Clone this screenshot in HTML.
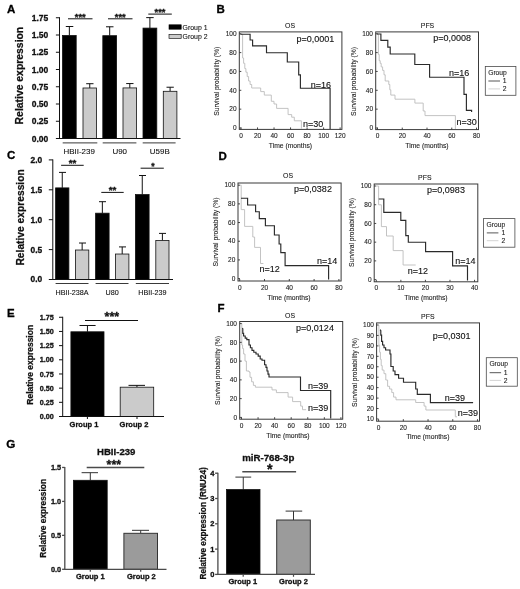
<!DOCTYPE html>
<html><head><meta charset="utf-8"><title>Figure</title>
<style>html,body{margin:0;padding:0;background:#fff;}body{width:520px;height:589px;overflow:hidden;}svg{display:block;font-family:"Liberation Sans",sans-serif;}</style>
</head><body>
<svg width="520" height="589" viewBox="0 0 520 589" style="filter:blur(0.35px)">
<rect x="0" y="0" width="520" height="589" fill="#fff"/>
<text x="6.9" y="12.8" font-size="11.5" font-weight="bold" text-anchor="start" fill="#000" stroke="#000" stroke-width="0.3">A</text>
<text x="216.5" y="13.2" font-size="11.5" font-weight="bold" text-anchor="start" fill="#000" stroke="#000" stroke-width="0.3">B</text>
<text x="6.9" y="159.2" font-size="11.5" font-weight="bold" text-anchor="start" fill="#000" stroke="#000" stroke-width="0.3">C</text>
<text x="218.6" y="159.5" font-size="11.5" font-weight="bold" text-anchor="start" fill="#000" stroke="#000" stroke-width="0.3">D</text>
<text x="7.1" y="316.7" font-size="11.5" font-weight="bold" text-anchor="start" fill="#000" stroke="#000" stroke-width="0.3">E</text>
<text x="217.4" y="311.5" font-size="11.5" font-weight="bold" text-anchor="start" fill="#000" stroke="#000" stroke-width="0.3">F</text>
<text x="6.3" y="447.8" font-size="11.7" font-weight="bold" text-anchor="start" fill="#000" stroke="#000" stroke-width="0.3">G</text>
<line x1="69.35" y1="35.48299999999999" x2="69.35" y2="26.51299999999999" stroke="#111" stroke-width="1"/>
<line x1="65.8" y1="26.51299999999999" x2="73.3" y2="26.51299999999999" stroke="#111" stroke-width="1"/>
<rect x="62.5" y="35.48299999999999" width="13.700000000000003" height="103.01700000000001" fill="#000" stroke="#111" stroke-width="0.8"/>
<line x1="89.75" y1="87.992" x2="89.75" y2="83.714" stroke="#111" stroke-width="1"/>
<line x1="86.2" y1="83.714" x2="93.5" y2="83.714" stroke="#111" stroke-width="1"/>
<rect x="83.0" y="87.992" width="13.5" height="50.507999999999996" fill="#cbcbcb" stroke="#111" stroke-width="0.8"/>
<line x1="109.69999999999999" y1="35.69" x2="109.69999999999999" y2="26.789" stroke="#111" stroke-width="1"/>
<line x1="106" y1="26.789" x2="113.5" y2="26.789" stroke="#111" stroke-width="1"/>
<rect x="102.8" y="35.69" width="13.799999999999997" height="102.81" fill="#000" stroke="#111" stroke-width="0.8"/>
<line x1="129.8" y1="87.923" x2="129.8" y2="83.576" stroke="#111" stroke-width="1"/>
<line x1="126.2" y1="83.576" x2="133.5" y2="83.576" stroke="#111" stroke-width="1"/>
<rect x="123.0" y="87.923" width="13.599999999999994" height="50.577" fill="#cbcbcb" stroke="#111" stroke-width="0.8"/>
<line x1="149.9" y1="28.099999999999994" x2="149.9" y2="17.611999999999995" stroke="#111" stroke-width="1"/>
<line x1="146.2" y1="17.611999999999995" x2="153.7" y2="17.611999999999995" stroke="#111" stroke-width="1"/>
<rect x="143.0" y="28.099999999999994" width="13.800000000000011" height="110.4" fill="#000" stroke="#111" stroke-width="0.8"/>
<line x1="170.10000000000002" y1="91.304" x2="170.10000000000002" y2="87.23299999999999" stroke="#111" stroke-width="1"/>
<line x1="166.5" y1="87.23299999999999" x2="173.8" y2="87.23299999999999" stroke="#111" stroke-width="1"/>
<rect x="163.3" y="91.304" width="13.599999999999994" height="47.196" fill="#cbcbcb" stroke="#111" stroke-width="0.8"/>
<line x1="59.5" y1="17.25" x2="59.5" y2="139.0" stroke="#111" stroke-width="1"/>
<line x1="59.0" y1="138.5" x2="180.5" y2="138.5" stroke="#111" stroke-width="1"/>
<line x1="55.9" y1="138.5" x2="59.5" y2="138.5" stroke="#111" stroke-width="1"/>
<text x="48.3" y="141.52" font-size="8.5" font-weight="bold" text-anchor="end" fill="#111" stroke="#111" stroke-width="0.3">0.00</text>
<line x1="55.9" y1="121.25" x2="59.5" y2="121.25" stroke="#111" stroke-width="1"/>
<text x="48.3" y="124.27" font-size="8.5" font-weight="bold" text-anchor="end" fill="#111" stroke="#111" stroke-width="0.3">0.25</text>
<line x1="55.9" y1="104.0" x2="59.5" y2="104.0" stroke="#111" stroke-width="1"/>
<text x="48.3" y="107.02" font-size="8.5" font-weight="bold" text-anchor="end" fill="#111" stroke="#111" stroke-width="0.3">0.50</text>
<line x1="55.9" y1="86.75" x2="59.5" y2="86.75" stroke="#111" stroke-width="1"/>
<text x="48.3" y="89.77" font-size="8.5" font-weight="bold" text-anchor="end" fill="#111" stroke="#111" stroke-width="0.3">0.75</text>
<line x1="55.9" y1="69.5" x2="59.5" y2="69.5" stroke="#111" stroke-width="1"/>
<text x="48.3" y="72.52" font-size="8.5" font-weight="bold" text-anchor="end" fill="#111" stroke="#111" stroke-width="0.3">1.00</text>
<line x1="55.9" y1="52.25" x2="59.5" y2="52.25" stroke="#111" stroke-width="1"/>
<text x="48.3" y="55.27" font-size="8.5" font-weight="bold" text-anchor="end" fill="#111" stroke="#111" stroke-width="0.3">1.25</text>
<line x1="55.9" y1="35.0" x2="59.5" y2="35.0" stroke="#111" stroke-width="1"/>
<text x="48.3" y="38.02" font-size="8.5" font-weight="bold" text-anchor="end" fill="#111" stroke="#111" stroke-width="0.3">1.50</text>
<line x1="55.9" y1="17.75" x2="59.5" y2="17.75" stroke="#111" stroke-width="1"/>
<text x="48.3" y="20.77" font-size="8.5" font-weight="bold" text-anchor="end" fill="#111" stroke="#111" stroke-width="0.3">1.75</text>
<text x="23.5" y="75.6" font-size="10.4" font-weight="bold" text-anchor="middle" fill="#111" transform="rotate(-90 23.5 75.6)" stroke="#111" stroke-width="0.25">Relative expression</text>
<line x1="68.0" y1="18.8" x2="92.5" y2="18.8" stroke="#111" stroke-width="1"/>
<text x="80.25" y="19.74" font-size="9.3" font-weight="bold" text-anchor="middle" fill="#111" stroke="#111" stroke-width="0.3">***</text>
<line x1="108.0" y1="18.8" x2="132.5" y2="18.8" stroke="#111" stroke-width="1"/>
<text x="120.25" y="19.74" font-size="9.3" font-weight="bold" text-anchor="middle" fill="#111" stroke="#111" stroke-width="0.3">***</text>
<line x1="148.3" y1="14.1" x2="171.8" y2="14.1" stroke="#111" stroke-width="1"/>
<text x="160.05" y="15.24" font-size="9.3" font-weight="bold" text-anchor="middle" fill="#111" stroke="#111" stroke-width="0.3">***</text>
<line x1="62.7" y1="142.9" x2="97.3" y2="142.9" stroke="#222" stroke-width="0.9"/>
<text x="79.2" y="153.9" font-size="7.95" text-anchor="middle" fill="#111" stroke="#111" stroke-width="0.1">HBII-239</text>
<line x1="102.7" y1="142.9" x2="136.4" y2="142.9" stroke="#222" stroke-width="0.9"/>
<text x="119.7" y="153.9" font-size="7.95" text-anchor="middle" fill="#111" stroke="#111" stroke-width="0.1">U90</text>
<line x1="142.7" y1="142.9" x2="175.6" y2="142.9" stroke="#222" stroke-width="0.9"/>
<text x="159.8" y="153.9" font-size="7.95" text-anchor="middle" fill="#111" stroke="#111" stroke-width="0.1">U59B</text>
<rect x="169.0" y="24.8" width="12.2" height="4.4" fill="#000" stroke="#000" stroke-width="0.6"/>
<rect x="169.0" y="34.4" width="12.2" height="4.2" fill="#cbcbcb" stroke="#222" stroke-width="0.7"/>
<text x="182.6" y="29.7" font-size="6.9" text-anchor="start" fill="#111" stroke="#111" stroke-width="0.1">Group 1</text>
<text x="182.6" y="39.3" font-size="6.9" text-anchor="start" fill="#111" stroke="#111" stroke-width="0.1">Group 2</text>
<line x1="62.25" y1="187.8864" x2="62.25" y2="172.3982" stroke="#111" stroke-width="1"/>
<line x1="59.0" y1="172.3982" x2="66.0" y2="172.3982" stroke="#111" stroke-width="1"/>
<rect x="55.6" y="187.8864" width="13.300000000000004" height="91.61359999999999" fill="#000" stroke="#111" stroke-width="0.8"/>
<line x1="82.15" y1="250.0186" x2="82.15" y2="243.022" stroke="#111" stroke-width="1"/>
<line x1="79.0" y1="243.022" x2="86.0" y2="243.022" stroke="#111" stroke-width="1"/>
<rect x="75.5" y="250.0186" width="13.299999999999997" height="29.481400000000008" fill="#cbcbcb" stroke="#111" stroke-width="0.8"/>
<line x1="102.35" y1="213.1818" x2="102.35" y2="201.7002" stroke="#111" stroke-width="1"/>
<line x1="99.0" y1="201.7002" x2="106.0" y2="201.7002" stroke="#111" stroke-width="1"/>
<rect x="95.6" y="213.1818" width="13.5" height="66.31819999999999" fill="#000" stroke="#111" stroke-width="0.8"/>
<line x1="122.2" y1="254.0252" x2="122.2" y2="246.909" stroke="#111" stroke-width="1"/>
<line x1="119.0" y1="246.909" x2="126.0" y2="246.909" stroke="#111" stroke-width="1"/>
<rect x="115.5" y="254.0252" width="13.400000000000006" height="25.474799999999988" fill="#cbcbcb" stroke="#111" stroke-width="0.8"/>
<line x1="142.25" y1="194.584" x2="142.25" y2="175.50780000000003" stroke="#111" stroke-width="1"/>
<line x1="139.0" y1="175.50780000000003" x2="146.0" y2="175.50780000000003" stroke="#111" stroke-width="1"/>
<rect x="135.4" y="194.584" width="13.699999999999989" height="84.916" fill="#000" stroke="#111" stroke-width="0.8"/>
<line x1="162.4" y1="240.5104" x2="162.4" y2="233.3942" stroke="#111" stroke-width="1"/>
<line x1="159.0" y1="233.3942" x2="166.0" y2="233.3942" stroke="#111" stroke-width="1"/>
<rect x="155.8" y="240.5104" width="13.199999999999989" height="38.989599999999996" fill="#cbcbcb" stroke="#111" stroke-width="0.8"/>
<line x1="52.8" y1="159.4" x2="52.8" y2="280.0" stroke="#111" stroke-width="1"/>
<line x1="52.3" y1="279.5" x2="173.0" y2="279.5" stroke="#111" stroke-width="1"/>
<line x1="48.8" y1="279.5" x2="52.8" y2="279.5" stroke="#111" stroke-width="1"/>
<text x="42.199999999999996" y="282.48" font-size="8.4" font-weight="bold" text-anchor="end" fill="#111" stroke="#111" stroke-width="0.3">0.0</text>
<line x1="48.8" y1="249.6" x2="52.8" y2="249.6" stroke="#111" stroke-width="1"/>
<text x="42.199999999999996" y="252.58" font-size="8.4" font-weight="bold" text-anchor="end" fill="#111" stroke="#111" stroke-width="0.3">0.5</text>
<line x1="48.8" y1="219.7" x2="52.8" y2="219.7" stroke="#111" stroke-width="1"/>
<text x="42.199999999999996" y="222.68" font-size="8.4" font-weight="bold" text-anchor="end" fill="#111" stroke="#111" stroke-width="0.3">1.0</text>
<line x1="48.8" y1="189.8" x2="52.8" y2="189.8" stroke="#111" stroke-width="1"/>
<text x="42.199999999999996" y="192.78" font-size="8.4" font-weight="bold" text-anchor="end" fill="#111" stroke="#111" stroke-width="0.3">1.5</text>
<line x1="48.8" y1="159.9" x2="52.8" y2="159.9" stroke="#111" stroke-width="1"/>
<text x="42.199999999999996" y="162.88" font-size="8.4" font-weight="bold" text-anchor="end" fill="#111" stroke="#111" stroke-width="0.3">2.0</text>
<text x="24.0" y="217.4" font-size="10.25" font-weight="bold" text-anchor="middle" fill="#111" transform="rotate(-90 24.0 217.4)" stroke="#111" stroke-width="0.25">Relative expression</text>
<line x1="61.1" y1="165.3" x2="83.7" y2="165.3" stroke="#111" stroke-width="1"/>
<text x="72.5" y="165.7" font-size="9.8" font-weight="bold" text-anchor="middle" fill="#111" stroke="#111" stroke-width="0.3">**</text>
<line x1="101.3" y1="192.4" x2="123.7" y2="192.4" stroke="#111" stroke-width="1"/>
<text x="112.5" y="192.8" font-size="9.8" font-weight="bold" text-anchor="middle" fill="#111" stroke="#111" stroke-width="0.3">**</text>
<line x1="140.6" y1="168.2" x2="163.8" y2="168.2" stroke="#111" stroke-width="1"/>
<text x="153.0" y="168.9" font-size="8.6" font-weight="bold" text-anchor="middle" fill="#111" stroke="#111" stroke-width="0.3">*</text>
<line x1="55.6" y1="283.5" x2="88.5" y2="283.5" stroke="#222" stroke-width="0.9"/>
<text x="72.05" y="294.8" font-size="7.2" text-anchor="middle" fill="#111" stroke="#111" stroke-width="0.1">HBII-238A</text>
<line x1="95.6" y1="283.5" x2="128.5" y2="283.5" stroke="#222" stroke-width="0.9"/>
<text x="112.05" y="294.8" font-size="7.2" text-anchor="middle" fill="#111" stroke="#111" stroke-width="0.1">U80</text>
<line x1="135.8" y1="283.5" x2="169.0" y2="283.5" stroke="#222" stroke-width="0.9"/>
<text x="152.4" y="294.8" font-size="7.2" text-anchor="middle" fill="#111" stroke="#111" stroke-width="0.1">HBII-239</text>
<line x1="87.45" y1="331.7902" x2="87.45" y2="325.49649999999997" stroke="#111" stroke-width="1"/>
<line x1="79.5" y1="325.49649999999997" x2="95.6" y2="325.49649999999997" stroke="#111" stroke-width="1"/>
<rect x="70.9" y="331.7902" width="33.099999999999994" height="84.70979999999997" fill="#000" stroke="#111" stroke-width="0.8"/>
<line x1="136.95" y1="387.1861" x2="136.95" y2="385.3717" stroke="#111" stroke-width="1"/>
<line x1="128.5" y1="385.3717" x2="145.0" y2="385.3717" stroke="#111" stroke-width="1"/>
<rect x="120.2" y="387.1861" width="33.499999999999986" height="29.31389999999999" fill="#cbcbcb" stroke="#111" stroke-width="0.8"/>
<line x1="62.7" y1="316.775" x2="62.7" y2="417.0" stroke="#111" stroke-width="1"/>
<line x1="62.2" y1="416.5" x2="164.0" y2="416.5" stroke="#111" stroke-width="1"/>
<line x1="59.0" y1="416.5" x2="62.7" y2="416.5" stroke="#111" stroke-width="1"/>
<text x="53.8" y="419.06" font-size="7.2" font-weight="bold" text-anchor="end" fill="#111" stroke="#111" stroke-width="0.3">0.00</text>
<line x1="59.0" y1="402.325" x2="62.7" y2="402.325" stroke="#111" stroke-width="1"/>
<text x="53.8" y="404.88" font-size="7.2" font-weight="bold" text-anchor="end" fill="#111" stroke="#111" stroke-width="0.3">0.25</text>
<line x1="59.0" y1="388.15" x2="62.7" y2="388.15" stroke="#111" stroke-width="1"/>
<text x="53.8" y="390.71" font-size="7.2" font-weight="bold" text-anchor="end" fill="#111" stroke="#111" stroke-width="0.3">0.50</text>
<line x1="59.0" y1="373.975" x2="62.7" y2="373.975" stroke="#111" stroke-width="1"/>
<text x="53.8" y="376.53" font-size="7.2" font-weight="bold" text-anchor="end" fill="#111" stroke="#111" stroke-width="0.3">0.75</text>
<line x1="59.0" y1="359.8" x2="62.7" y2="359.8" stroke="#111" stroke-width="1"/>
<text x="53.8" y="362.36" font-size="7.2" font-weight="bold" text-anchor="end" fill="#111" stroke="#111" stroke-width="0.3">1.00</text>
<line x1="59.0" y1="345.625" x2="62.7" y2="345.625" stroke="#111" stroke-width="1"/>
<text x="53.8" y="348.18" font-size="7.2" font-weight="bold" text-anchor="end" fill="#111" stroke="#111" stroke-width="0.3">1.25</text>
<line x1="59.0" y1="331.45" x2="62.7" y2="331.45" stroke="#111" stroke-width="1"/>
<text x="53.8" y="334.01" font-size="7.2" font-weight="bold" text-anchor="end" fill="#111" stroke="#111" stroke-width="0.3">1.50</text>
<line x1="59.0" y1="317.275" x2="62.7" y2="317.275" stroke="#111" stroke-width="1"/>
<text x="53.8" y="319.83" font-size="7.2" font-weight="bold" text-anchor="end" fill="#111" stroke="#111" stroke-width="0.3">1.75</text>
<text x="32.8" y="364.8" font-size="8.5" font-weight="bold" text-anchor="middle" fill="#111" transform="rotate(-90 32.8 364.8)" stroke="#111" stroke-width="0.25">Relative expression</text>
<line x1="87.4" y1="416.5" x2="87.4" y2="419" stroke="#111" stroke-width="1"/>
<line x1="137" y1="416.5" x2="137" y2="419" stroke="#111" stroke-width="1"/>
<line x1="85.0" y1="320.5" x2="138.0" y2="320.5" stroke="#111" stroke-width="1"/>
<text x="111.9" y="321.45" font-size="12.5" font-weight="bold" text-anchor="middle" fill="#111" stroke="#111" stroke-width="0.3">***</text>
<text x="84.0" y="426.6" font-size="7.5" font-weight="bold" text-anchor="middle" fill="#111" stroke="#111" stroke-width="0.3">Group 1</text>
<text x="134.0" y="426.6" font-size="7.5" font-weight="bold" text-anchor="middle" fill="#111" stroke="#111" stroke-width="0.3">Group 2</text>
<line x1="90.30000000000001" y1="480.28309999999993" x2="90.30000000000001" y2="472.6782999999999" stroke="#333" stroke-width="1"/>
<line x1="81.6" y1="472.6782999999999" x2="98.0" y2="472.6782999999999" stroke="#333" stroke-width="1"/>
<rect x="73.4" y="480.28309999999993" width="33.8" height="89.01690000000002" fill="#000" stroke="#111" stroke-width="0.8"/>
<line x1="140.7" y1="533.313" x2="140.7" y2="530.3254" stroke="#333" stroke-width="1"/>
<line x1="132.0" y1="530.3254" x2="149.0" y2="530.3254" stroke="#333" stroke-width="1"/>
<rect x="123.9" y="533.313" width="33.599999999999994" height="35.986999999999966" fill="#9b9b9b" stroke="#333" stroke-width="1.0"/>
<line x1="64.8" y1="466.94999999999993" x2="64.8" y2="569.8" stroke="#4a4a4a" stroke-width="1.3"/>
<line x1="64.3" y1="569.3" x2="166.5" y2="569.3" stroke="#4a4a4a" stroke-width="1.3"/>
<line x1="62.099999999999994" y1="569.3" x2="64.8" y2="569.3" stroke="#4a4a4a" stroke-width="1.3"/>
<text x="61.199999999999996" y="571.89" font-size="7.3" font-weight="bold" text-anchor="end" fill="#111" stroke="#111" stroke-width="0.3">0.0</text>
<line x1="62.099999999999994" y1="535.3499999999999" x2="64.8" y2="535.3499999999999" stroke="#4a4a4a" stroke-width="1.3"/>
<text x="61.199999999999996" y="537.94" font-size="7.3" font-weight="bold" text-anchor="end" fill="#111" stroke="#111" stroke-width="0.3">0.5</text>
<line x1="62.099999999999994" y1="501.4" x2="64.8" y2="501.4" stroke="#4a4a4a" stroke-width="1.3"/>
<text x="61.199999999999996" y="503.99" font-size="7.3" font-weight="bold" text-anchor="end" fill="#111" stroke="#111" stroke-width="0.3">1.0</text>
<line x1="62.099999999999994" y1="467.44999999999993" x2="64.8" y2="467.44999999999993" stroke="#4a4a4a" stroke-width="1.3"/>
<text x="61.199999999999996" y="470.04" font-size="7.3" font-weight="bold" text-anchor="end" fill="#111" stroke="#111" stroke-width="0.3">1.5</text>
<text x="46.3" y="518.3" font-size="8.4" font-weight="bold" text-anchor="middle" fill="#111" transform="rotate(-90 46.3 518.3)" stroke="#111" stroke-width="0.25">Relative expression</text>
<line x1="90.3" y1="569" x2="90.3" y2="571.8" stroke="#4a4a4a" stroke-width="1.2"/>
<line x1="140.7" y1="569" x2="140.7" y2="571.8" stroke="#4a4a4a" stroke-width="1.2"/>
<line x1="86.7" y1="467.6" x2="144.3" y2="467.6" stroke="#4a4a4a" stroke-width="1.5"/>
<text x="113.8" y="468.52" font-size="12.4" font-weight="bold" text-anchor="middle" fill="#111" stroke="#111" stroke-width="0.3">***</text>
<text x="116.2" y="455.0" font-size="9.6" font-weight="bold" text-anchor="middle" fill="#111" stroke="#111" stroke-width="0.3">HBII-239</text>
<text x="90.3" y="578.7" font-size="7.5" font-weight="bold" text-anchor="middle" fill="#111" stroke="#111" stroke-width="0.3">Group 1</text>
<text x="141.4" y="578.7" font-size="7.5" font-weight="bold" text-anchor="middle" fill="#111" stroke="#111" stroke-width="0.3">Group 2</text>
<line x1="243.25" y1="489.59439999999995" x2="243.25" y2="477.09619999999995" stroke="#333" stroke-width="1"/>
<line x1="235.4" y1="477.09619999999995" x2="251.2" y2="477.09619999999995" stroke="#333" stroke-width="1"/>
<rect x="226.5" y="489.59439999999995" width="33.5" height="84.80560000000003" fill="#000" stroke="#111" stroke-width="0.8"/>
<line x1="293.5" y1="520.005" x2="293.5" y2="511.0994" stroke="#333" stroke-width="1"/>
<line x1="285.6" y1="511.0994" x2="302.2" y2="511.0994" stroke="#333" stroke-width="1"/>
<rect x="276.7" y="520.005" width="33.60000000000002" height="54.39499999999998" fill="#9b9b9b" stroke="#333" stroke-width="1.0"/>
<line x1="217.9" y1="472.7" x2="217.9" y2="574.9" stroke="#4a4a4a" stroke-width="1.3"/>
<line x1="217.4" y1="574.4" x2="315.0" y2="574.4" stroke="#4a4a4a" stroke-width="1.3"/>
<line x1="215.1" y1="574.4" x2="217.9" y2="574.4" stroke="#4a4a4a" stroke-width="1.3"/>
<text x="214.5" y="577.06" font-size="7.5" font-weight="bold" text-anchor="end" fill="#111" stroke="#111" stroke-width="0.3">0</text>
<line x1="215.1" y1="549.1" x2="217.9" y2="549.1" stroke="#4a4a4a" stroke-width="1.3"/>
<text x="214.5" y="551.76" font-size="7.5" font-weight="bold" text-anchor="end" fill="#111" stroke="#111" stroke-width="0.3">1</text>
<line x1="215.1" y1="523.8" x2="217.9" y2="523.8" stroke="#4a4a4a" stroke-width="1.3"/>
<text x="214.5" y="526.46" font-size="7.5" font-weight="bold" text-anchor="end" fill="#111" stroke="#111" stroke-width="0.3">2</text>
<line x1="215.1" y1="498.5" x2="217.9" y2="498.5" stroke="#4a4a4a" stroke-width="1.3"/>
<text x="214.5" y="501.16" font-size="7.5" font-weight="bold" text-anchor="end" fill="#111" stroke="#111" stroke-width="0.3">3</text>
<line x1="215.1" y1="473.2" x2="217.9" y2="473.2" stroke="#4a4a4a" stroke-width="1.3"/>
<text x="214.5" y="475.86" font-size="7.5" font-weight="bold" text-anchor="end" fill="#111" stroke="#111" stroke-width="0.3">4</text>
<text x="205.9" y="523.4" font-size="8.25" font-weight="bold" text-anchor="middle" fill="#111" transform="rotate(-90 205.9 523.4)" stroke="#111" stroke-width="0.25">Relative expression (RNU24)</text>
<line x1="243.2" y1="574.1" x2="243.2" y2="576.8" stroke="#4a4a4a" stroke-width="1.2"/>
<line x1="293.5" y1="574.1" x2="293.5" y2="576.8" stroke="#4a4a4a" stroke-width="1.2"/>
<line x1="242.3" y1="471.8" x2="296.1" y2="471.8" stroke="#4a4a4a" stroke-width="1.5"/>
<text x="269.8" y="474.4" font-size="14.3" font-weight="bold" text-anchor="middle" fill="#111" stroke="#111" stroke-width="0.3">*</text>
<text x="268.3" y="460.9" font-size="9.7" font-weight="bold" text-anchor="middle" fill="#111" stroke="#111" stroke-width="0.3">miR-768-3p</text>
<text x="242.8" y="584.4" font-size="7.5" font-weight="bold" text-anchor="middle" fill="#111" stroke="#111" stroke-width="0.3">Group 1</text>
<text x="293.5" y="584.4" font-size="7.5" font-weight="bold" text-anchor="middle" fill="#111" stroke="#111" stroke-width="0.3">Group 2</text>
<path d="M240.4 34.2 L242.6 34.2 L242.6 58.0 L243.6 58.0 L243.6 63.3 L244.8 63.3 L244.8 68.6 L245.9 68.6 L245.9 72.2 L247.2 72.2 L247.2 76.6 L248.6 76.6 L248.6 81.0 L250.1 81.0 L250.1 84.5 L251.7 84.5 L251.7 88.0 L260.7 88.0 L260.7 91.6 L264.3 91.6 L264.3 95.1 L271.3 95.1 L271.3 101.3 L274.0 101.3 L274.0 104.0 L276.6 104.0 L276.6 108.4 L288.1 108.4 L288.1 114.6 L291.7 114.6 L291.7 117.2 L294.3 117.2 L294.3 120.8 L301.4 120.8 L301.4 128.6 " stroke="#bcbcbc" stroke-width="0.9" fill="none"/>
<path d="M240.4 34.2 L250.1 34.2 L250.1 40.0 L252.6 40.0 L252.6 45.8 L266.5 45.8 L266.5 52.7 L287.3 52.7 L287.3 62.0 L298.7 62.0 L298.7 74.8 L300.4 74.8 L300.4 88.2 L330.1 88.2 L330.1 129.0 " stroke="#2a2a2a" stroke-width="1.15" fill="none"/>
<rect x="239.3" y="31.9" width="102.59999999999997" height="97.5" fill="none" stroke="#3a3a3a" stroke-width="1.0"/>
<line x1="241.0" y1="129.4" x2="241.0" y2="127.4" stroke="#333" stroke-width="0.9"/>
<text x="241.0" y="137.9" font-size="6.5" text-anchor="middle" fill="#222" stroke="#222" stroke-width="0.1">0</text>
<line x1="257.52" y1="129.4" x2="257.52" y2="127.4" stroke="#333" stroke-width="0.9"/>
<text x="257.52" y="137.9" font-size="6.5" text-anchor="middle" fill="#222" stroke="#222" stroke-width="0.1">20</text>
<line x1="274.04" y1="129.4" x2="274.04" y2="127.4" stroke="#333" stroke-width="0.9"/>
<text x="274.04" y="137.9" font-size="6.5" text-anchor="middle" fill="#222" stroke="#222" stroke-width="0.1">40</text>
<line x1="290.56" y1="129.4" x2="290.56" y2="127.4" stroke="#333" stroke-width="0.9"/>
<text x="290.56" y="137.9" font-size="6.5" text-anchor="middle" fill="#222" stroke="#222" stroke-width="0.1">60</text>
<line x1="307.08" y1="129.4" x2="307.08" y2="127.4" stroke="#333" stroke-width="0.9"/>
<text x="307.08" y="137.9" font-size="6.5" text-anchor="middle" fill="#222" stroke="#222" stroke-width="0.1">80</text>
<line x1="323.6" y1="129.4" x2="323.6" y2="127.4" stroke="#333" stroke-width="0.9"/>
<text x="323.6" y="137.9" font-size="6.5" text-anchor="middle" fill="#222" stroke="#222" stroke-width="0.1">100</text>
<line x1="340.12" y1="129.4" x2="340.12" y2="127.4" stroke="#333" stroke-width="0.9"/>
<text x="340.12" y="137.9" font-size="6.5" text-anchor="middle" fill="#222" stroke="#222" stroke-width="0.1">120</text>
<line x1="239.3" y1="128.0" x2="241.3" y2="128.0" stroke="#333" stroke-width="0.9"/>
<text x="236.60000000000002" y="130.21" font-size="6.5" text-anchor="end" fill="#222" stroke="#222" stroke-width="0.1">0</text>
<line x1="239.3" y1="109.15" x2="241.3" y2="109.15" stroke="#333" stroke-width="0.9"/>
<text x="236.60000000000002" y="111.36" font-size="6.5" text-anchor="end" fill="#222" stroke="#222" stroke-width="0.1">20</text>
<line x1="239.3" y1="90.3" x2="241.3" y2="90.3" stroke="#333" stroke-width="0.9"/>
<text x="236.60000000000002" y="92.51" font-size="6.5" text-anchor="end" fill="#222" stroke="#222" stroke-width="0.1">40</text>
<line x1="239.3" y1="71.45" x2="241.3" y2="71.45" stroke="#333" stroke-width="0.9"/>
<text x="236.60000000000002" y="73.66" font-size="6.5" text-anchor="end" fill="#222" stroke="#222" stroke-width="0.1">60</text>
<line x1="239.3" y1="52.599999999999994" x2="241.3" y2="52.599999999999994" stroke="#333" stroke-width="0.9"/>
<text x="236.60000000000002" y="54.81" font-size="6.5" text-anchor="end" fill="#222" stroke="#222" stroke-width="0.1">80</text>
<line x1="239.3" y1="33.75" x2="241.3" y2="33.75" stroke="#333" stroke-width="0.9"/>
<text x="236.60000000000002" y="35.96" font-size="6.5" text-anchor="end" fill="#222" stroke="#222" stroke-width="0.1">100</text>
<text x="290" y="27.8" font-size="6.9" text-anchor="middle" fill="#222" stroke="#222" stroke-width="0.1">OS</text>
<text x="290.5" y="148.29999999999998" font-size="6.75" text-anchor="middle" fill="#222" stroke="#222" stroke-width="0.1">Time (months)</text>
<text x="334.2" y="42.0" font-size="9" text-anchor="end" fill="#111" stroke="#111" stroke-width="0.12">p=0,0001</text>
<text x="331.0" y="87.6" font-size="9" text-anchor="end" fill="#111" stroke="#111" stroke-width="0.12">n=16</text>
<text x="323.2" y="126.6" font-size="9" text-anchor="end" fill="#111" stroke="#111" stroke-width="0.12">n=30</text>
<text x="219.3" y="81.3" font-size="6.75" text-anchor="middle" fill="#222" transform="rotate(-90 219.3 81.3)" stroke="#222" stroke-width="0.1">Survival probability (%)</text>
<path d="M376.8 34.0 L378.4 34.0 L378.4 54.5 L379.2 54.5 L379.2 60.7 L380.2 60.7 L380.2 63.3 L381.2 63.3 L381.2 66.9 L382.6 66.9 L382.6 70.4 L384.0 70.4 L384.0 74.8 L385.2 74.8 L385.2 81.0 L388.8 81.0 L388.8 84.5 L389.8 84.5 L389.8 89.8 L390.8 89.8 L390.8 95.1 L395.0 95.1 L395.0 99.2 L414.9 99.2 L414.9 103.1 L423.2 103.1 L423.2 111.0 L425.0 111.0 L425.0 115.6 L455.4 115.6 L455.4 129.0 " stroke="#bcbcbc" stroke-width="0.9" fill="none"/>
<path d="M376.8 34.0 L380.9 34.0 L380.9 40.3 L387.8 40.3 L387.8 47.1 L390.2 47.1 L390.2 54.0 L414.8 54.0 L414.8 64.5 L429.6 64.5 L429.6 77.2 L464.0 77.2 L464.0 94.3 L466.4 94.3 L466.4 110.3 L471.6 110.3 L471.6 112.0 " stroke="#2a2a2a" stroke-width="1.15" fill="none"/>
<rect x="375.7" y="31.9" width="102.80000000000001" height="97.69999999999999" fill="none" stroke="#3a3a3a" stroke-width="1.0"/>
<line x1="377.5" y1="129.6" x2="377.5" y2="127.6" stroke="#333" stroke-width="0.9"/>
<text x="377.5" y="138.1" font-size="6.5" text-anchor="middle" fill="#222" stroke="#222" stroke-width="0.1">0</text>
<line x1="402.25" y1="129.6" x2="402.25" y2="127.6" stroke="#333" stroke-width="0.9"/>
<text x="402.25" y="138.1" font-size="6.5" text-anchor="middle" fill="#222" stroke="#222" stroke-width="0.1">20</text>
<line x1="427.0" y1="129.6" x2="427.0" y2="127.6" stroke="#333" stroke-width="0.9"/>
<text x="427.0" y="138.1" font-size="6.5" text-anchor="middle" fill="#222" stroke="#222" stroke-width="0.1">40</text>
<line x1="451.75" y1="129.6" x2="451.75" y2="127.6" stroke="#333" stroke-width="0.9"/>
<text x="451.75" y="138.1" font-size="6.5" text-anchor="middle" fill="#222" stroke="#222" stroke-width="0.1">60</text>
<line x1="476.5" y1="129.6" x2="476.5" y2="127.6" stroke="#333" stroke-width="0.9"/>
<text x="476.5" y="138.1" font-size="6.5" text-anchor="middle" fill="#222" stroke="#222" stroke-width="0.1">80</text>
<line x1="375.7" y1="128.0" x2="377.7" y2="128.0" stroke="#333" stroke-width="0.9"/>
<text x="373.0" y="130.21" font-size="6.5" text-anchor="end" fill="#222" stroke="#222" stroke-width="0.1">0</text>
<line x1="375.7" y1="109.15" x2="377.7" y2="109.15" stroke="#333" stroke-width="0.9"/>
<text x="373.0" y="111.36" font-size="6.5" text-anchor="end" fill="#222" stroke="#222" stroke-width="0.1">20</text>
<line x1="375.7" y1="90.3" x2="377.7" y2="90.3" stroke="#333" stroke-width="0.9"/>
<text x="373.0" y="92.51" font-size="6.5" text-anchor="end" fill="#222" stroke="#222" stroke-width="0.1">40</text>
<line x1="375.7" y1="71.45" x2="377.7" y2="71.45" stroke="#333" stroke-width="0.9"/>
<text x="373.0" y="73.66" font-size="6.5" text-anchor="end" fill="#222" stroke="#222" stroke-width="0.1">60</text>
<line x1="375.7" y1="52.599999999999994" x2="377.7" y2="52.599999999999994" stroke="#333" stroke-width="0.9"/>
<text x="373.0" y="54.81" font-size="6.5" text-anchor="end" fill="#222" stroke="#222" stroke-width="0.1">80</text>
<line x1="375.7" y1="33.75" x2="377.7" y2="33.75" stroke="#333" stroke-width="0.9"/>
<text x="373.0" y="35.96" font-size="6.5" text-anchor="end" fill="#222" stroke="#222" stroke-width="0.1">100</text>
<text x="427.5" y="28.0" font-size="6.9" text-anchor="middle" fill="#222" stroke="#222" stroke-width="0.1">PFS</text>
<text x="427.0" y="148.29999999999998" font-size="6.75" text-anchor="middle" fill="#222" stroke="#222" stroke-width="0.1">Time (months)</text>
<text x="471.0" y="40.8" font-size="9" text-anchor="end" fill="#111" stroke="#111" stroke-width="0.12">p=0,0008</text>
<text x="469.3" y="76.1" font-size="9" text-anchor="end" fill="#111" stroke="#111" stroke-width="0.12">n=16</text>
<text x="476.8" y="125.0" font-size="9" text-anchor="end" fill="#111" stroke="#111" stroke-width="0.12">n=30</text>
<text x="356.0" y="81.5" font-size="6.75" text-anchor="middle" fill="#222" transform="rotate(-90 356.0 81.5)" stroke="#222" stroke-width="0.1">Survival probability (%)</text>
<rect x="485.3" y="66.4" width="30.599999999999966" height="28.89999999999999" fill="#fff" stroke="#4a4a4a" stroke-width="0.8"/>
<text x="488.2" y="74.8" font-size="6.7" text-anchor="start" fill="#222" stroke="#222" stroke-width="0.1">Group</text>
<line x1="488.4" y1="81.0" x2="500.0" y2="81.0" stroke="#444" stroke-width="0.9"/>
<line x1="488.4" y1="88.9" x2="500.0" y2="88.9" stroke="#c8c8c8" stroke-width="0.8"/>
<text x="502.8" y="83.3" font-size="6.8" text-anchor="start" fill="#222" stroke="#222" stroke-width="0.1">1</text>
<text x="502.8" y="91.4" font-size="6.8" text-anchor="start" fill="#222" stroke="#222" stroke-width="0.1">2</text>
<path d="M240.0 185.2 L241.2 185.2 L241.2 209.6 L244.6 209.6 L244.6 226.4 L252.8 226.4 L252.8 237.0 L254.6 237.0 L254.6 247.4 L260.5 247.4 L260.5 263.5 L263.4 263.5 " stroke="#bcbcbc" stroke-width="0.9" fill="none"/>
<path d="M241.0 198.2 L247.6 198.2 L247.6 205.0 L255.6 205.0 L255.6 211.7 L259.3 211.7 L259.3 218.6 L265.4 218.6 L265.4 225.7 L274.4 225.7 L274.4 235.0 L279.1 235.0 L279.1 244.0 L280.8 244.0 L280.8 252.6 L285.1 252.6 L285.1 265.6 L328.6 265.6 L328.6 279.6 " stroke="#2a2a2a" stroke-width="1.15" fill="none"/>
<rect x="238.0" y="183.0" width="103.10000000000002" height="98.0" fill="none" stroke="#3a3a3a" stroke-width="1.0"/>
<line x1="239.7" y1="281.0" x2="239.7" y2="279.0" stroke="#333" stroke-width="0.9"/>
<text x="239.7" y="289.5" font-size="6.5" text-anchor="middle" fill="#222" stroke="#222" stroke-width="0.1">0</text>
<line x1="264.5" y1="281.0" x2="264.5" y2="279.0" stroke="#333" stroke-width="0.9"/>
<text x="264.5" y="289.5" font-size="6.5" text-anchor="middle" fill="#222" stroke="#222" stroke-width="0.1">20</text>
<line x1="289.3" y1="281.0" x2="289.3" y2="279.0" stroke="#333" stroke-width="0.9"/>
<text x="289.3" y="289.5" font-size="6.5" text-anchor="middle" fill="#222" stroke="#222" stroke-width="0.1">40</text>
<line x1="314.1" y1="281.0" x2="314.1" y2="279.0" stroke="#333" stroke-width="0.9"/>
<text x="314.1" y="289.5" font-size="6.5" text-anchor="middle" fill="#222" stroke="#222" stroke-width="0.1">60</text>
<line x1="338.9" y1="281.0" x2="338.9" y2="279.0" stroke="#333" stroke-width="0.9"/>
<text x="338.9" y="289.5" font-size="6.5" text-anchor="middle" fill="#222" stroke="#222" stroke-width="0.1">80</text>
<line x1="238.0" y1="278.6" x2="240.0" y2="278.6" stroke="#333" stroke-width="0.9"/>
<text x="235.3" y="280.81" font-size="6.5" text-anchor="end" fill="#222" stroke="#222" stroke-width="0.1">0</text>
<line x1="238.0" y1="259.92" x2="240.0" y2="259.92" stroke="#333" stroke-width="0.9"/>
<text x="235.3" y="262.13" font-size="6.5" text-anchor="end" fill="#222" stroke="#222" stroke-width="0.1">20</text>
<line x1="238.0" y1="241.24" x2="240.0" y2="241.24" stroke="#333" stroke-width="0.9"/>
<text x="235.3" y="243.45" font-size="6.5" text-anchor="end" fill="#222" stroke="#222" stroke-width="0.1">40</text>
<line x1="238.0" y1="222.56" x2="240.0" y2="222.56" stroke="#333" stroke-width="0.9"/>
<text x="235.3" y="224.77" font-size="6.5" text-anchor="end" fill="#222" stroke="#222" stroke-width="0.1">60</text>
<line x1="238.0" y1="203.88000000000002" x2="240.0" y2="203.88000000000002" stroke="#333" stroke-width="0.9"/>
<text x="235.3" y="206.09" font-size="6.5" text-anchor="end" fill="#222" stroke="#222" stroke-width="0.1">80</text>
<line x1="238.0" y1="185.20000000000002" x2="240.0" y2="185.20000000000002" stroke="#333" stroke-width="0.9"/>
<text x="235.3" y="187.41" font-size="6.5" text-anchor="end" fill="#222" stroke="#222" stroke-width="0.1">100</text>
<text x="288" y="177.8" font-size="6.9" text-anchor="middle" fill="#222" stroke="#222" stroke-width="0.1">OS</text>
<text x="289.0" y="299.59999999999997" font-size="6.75" text-anchor="middle" fill="#222" stroke="#222" stroke-width="0.1">Time (months)</text>
<text x="331.9" y="191.7" font-size="9" text-anchor="end" fill="#111" stroke="#111" stroke-width="0.12">p=0,0382</text>
<text x="337.2" y="263.7" font-size="9" text-anchor="end" fill="#111" stroke="#111" stroke-width="0.12">n=14</text>
<text x="279.8" y="272.0" font-size="9" text-anchor="end" fill="#111" stroke="#111" stroke-width="0.12">n=12</text>
<text x="217.7" y="231.9" font-size="6.75" text-anchor="middle" fill="#222" transform="rotate(-90 217.7 231.9)" stroke="#222" stroke-width="0.1">Survival probability (%)</text>
<path d="M376.4 186.0 L378.6 186.0 L378.6 204.8 L381.4 204.8 L381.4 226.6 L386.5 226.6 L386.5 236.0 L393.2 236.0 L393.2 250.6 L403.1 250.6 L403.1 265.0 L415.7 265.0 " stroke="#bcbcbc" stroke-width="0.9" fill="none"/>
<path d="M378.8 199.0 L383.8 199.0 L383.8 212.3 L400.8 212.3 L400.8 220.4 L405.8 220.4 L405.8 235.6 L408.3 235.6 L408.3 242.2 L425.6 242.2 L425.6 251.6 L452.6 251.6 L452.6 265.8 L467.5 265.8 L467.5 280.6 " stroke="#2a2a2a" stroke-width="1.15" fill="none"/>
<rect x="374.2" y="184.0" width="103.60000000000002" height="97.80000000000001" fill="none" stroke="#3a3a3a" stroke-width="1.0"/>
<line x1="376.3" y1="281.8" x2="376.3" y2="279.8" stroke="#333" stroke-width="0.9"/>
<text x="376.3" y="290.3" font-size="6.5" text-anchor="middle" fill="#222" stroke="#222" stroke-width="0.1">0</text>
<line x1="400.86" y1="281.8" x2="400.86" y2="279.8" stroke="#333" stroke-width="0.9"/>
<text x="400.86" y="290.3" font-size="6.5" text-anchor="middle" fill="#222" stroke="#222" stroke-width="0.1">10</text>
<line x1="425.42" y1="281.8" x2="425.42" y2="279.8" stroke="#333" stroke-width="0.9"/>
<text x="425.42" y="290.3" font-size="6.5" text-anchor="middle" fill="#222" stroke="#222" stroke-width="0.1">20</text>
<line x1="449.98" y1="281.8" x2="449.98" y2="279.8" stroke="#333" stroke-width="0.9"/>
<text x="449.98" y="290.3" font-size="6.5" text-anchor="middle" fill="#222" stroke="#222" stroke-width="0.1">30</text>
<line x1="474.54" y1="281.8" x2="474.54" y2="279.8" stroke="#333" stroke-width="0.9"/>
<text x="474.54" y="290.3" font-size="6.5" text-anchor="middle" fill="#222" stroke="#222" stroke-width="0.1">40</text>
<line x1="374.2" y1="279.6" x2="376.2" y2="279.6" stroke="#333" stroke-width="0.9"/>
<text x="371.5" y="281.81" font-size="6.5" text-anchor="end" fill="#222" stroke="#222" stroke-width="0.1">0</text>
<line x1="374.2" y1="260.88" x2="376.2" y2="260.88" stroke="#333" stroke-width="0.9"/>
<text x="371.5" y="263.09" font-size="6.5" text-anchor="end" fill="#222" stroke="#222" stroke-width="0.1">20</text>
<line x1="374.2" y1="242.16000000000003" x2="376.2" y2="242.16000000000003" stroke="#333" stroke-width="0.9"/>
<text x="371.5" y="244.37" font-size="6.5" text-anchor="end" fill="#222" stroke="#222" stroke-width="0.1">40</text>
<line x1="374.2" y1="223.44000000000003" x2="376.2" y2="223.44000000000003" stroke="#333" stroke-width="0.9"/>
<text x="371.5" y="225.65" font-size="6.5" text-anchor="end" fill="#222" stroke="#222" stroke-width="0.1">60</text>
<line x1="374.2" y1="204.72000000000003" x2="376.2" y2="204.72000000000003" stroke="#333" stroke-width="0.9"/>
<text x="371.5" y="206.93" font-size="6.5" text-anchor="end" fill="#222" stroke="#222" stroke-width="0.1">80</text>
<line x1="374.2" y1="186.0" x2="376.2" y2="186.0" stroke="#333" stroke-width="0.9"/>
<text x="371.5" y="188.21" font-size="6.5" text-anchor="end" fill="#222" stroke="#222" stroke-width="0.1">100</text>
<text x="424.8" y="179.6" font-size="6.9" text-anchor="middle" fill="#222" stroke="#222" stroke-width="0.1">PFS</text>
<text x="426.0" y="299.59999999999997" font-size="6.75" text-anchor="middle" fill="#222" stroke="#222" stroke-width="0.1">Time (months)</text>
<text x="464.9" y="192.9" font-size="9" text-anchor="end" fill="#111" stroke="#111" stroke-width="0.12">p=0,0983</text>
<text x="475.6" y="263.7" font-size="9" text-anchor="end" fill="#111" stroke="#111" stroke-width="0.12">n=14</text>
<text x="428.0" y="273.7" font-size="9" text-anchor="end" fill="#111" stroke="#111" stroke-width="0.12">n=12</text>
<text x="354.0" y="232.5" font-size="6.75" text-anchor="middle" fill="#222" transform="rotate(-90 354.0 232.5)" stroke="#222" stroke-width="0.1">Survival probability (%)</text>
<rect x="483.5" y="218.6" width="31.399999999999977" height="28.599999999999994" fill="#fff" stroke="#4a4a4a" stroke-width="0.8"/>
<text x="486.6" y="226.9" font-size="6.7" text-anchor="start" fill="#222" stroke="#222" stroke-width="0.1">Group</text>
<line x1="486.8" y1="232.9" x2="498.4" y2="232.9" stroke="#444" stroke-width="0.9"/>
<line x1="486.8" y1="240.7" x2="498.4" y2="240.7" stroke="#c8c8c8" stroke-width="0.8"/>
<text x="501.4" y="235.20000000000002" font-size="6.8" text-anchor="start" fill="#222" stroke="#222" stroke-width="0.1">1</text>
<text x="501.4" y="243.2" font-size="6.8" text-anchor="start" fill="#222" stroke="#222" stroke-width="0.1">2</text>
<path d="M240.4 323.4 L241.8 323.4 L241.8 345.0 L242.6 345.0 L242.6 348.6 L243.6 348.6 L243.6 354.0 L245.0 354.0 L245.0 361.1 L246.4 361.1 L246.4 371.0 L249.0 371.0 L249.0 372.0 L250.0 372.0 L250.0 377.3 L251.6 377.3 L251.6 381.8 L253.4 381.8 L253.4 385.4 L255.4 385.4 L255.4 387.2 L272.0 387.2 L272.0 389.9 L276.4 389.9 L276.4 392.6 L288.1 392.6 L288.1 397.1 L292.6 397.1 L292.6 401.6 L300.7 401.6 L300.7 406.1 L302.5 406.1 L302.5 409.7 L306.1 409.7 " stroke="#bcbcbc" stroke-width="0.9" fill="none"/>
<path d="M242.4 328.0 L242.8 328.8 L242.8 333.3 L243.6 333.3 L243.6 336.0 L245.2 336.0 L245.2 338.1 L246.8 338.1 L246.8 339.6 L249.0 339.6 L249.0 345.0 L250.4 345.0 L250.4 347.7 L252.0 347.7 L252.0 350.4 L253.8 350.4 L253.8 352.2 L256.0 352.2 L256.0 354.0 L258.2 354.0 L258.2 356.1 L260.2 356.1 L260.2 359.0 L262.0 359.0 L262.0 360.2 L264.6 360.2 L264.6 364.7 L266.0 364.7 L266.0 367.4 L267.0 367.4 L267.0 371.0 L268.0 371.0 L268.0 374.1 L269.0 374.1 L269.0 377.0 L300.5 377.0 L300.5 390.5 L330.7 390.5 L330.7 418.6 " stroke="#2a2a2a" stroke-width="1.15" fill="none"/>
<rect x="239.7" y="321.5" width="103.0" height="97.69999999999999" fill="none" stroke="#3a3a3a" stroke-width="1.0"/>
<line x1="241.5" y1="419.2" x2="241.5" y2="417.2" stroke="#333" stroke-width="0.9"/>
<text x="241.5" y="427.7" font-size="6.5" text-anchor="middle" fill="#222" stroke="#222" stroke-width="0.1">0</text>
<line x1="258.06600000000003" y1="419.2" x2="258.06600000000003" y2="417.2" stroke="#333" stroke-width="0.9"/>
<text x="258.06600000000003" y="427.7" font-size="6.5" text-anchor="middle" fill="#222" stroke="#222" stroke-width="0.1">20</text>
<line x1="274.632" y1="419.2" x2="274.632" y2="417.2" stroke="#333" stroke-width="0.9"/>
<text x="274.632" y="427.7" font-size="6.5" text-anchor="middle" fill="#222" stroke="#222" stroke-width="0.1">40</text>
<line x1="291.198" y1="419.2" x2="291.198" y2="417.2" stroke="#333" stroke-width="0.9"/>
<text x="291.198" y="427.7" font-size="6.5" text-anchor="middle" fill="#222" stroke="#222" stroke-width="0.1">60</text>
<line x1="307.764" y1="419.2" x2="307.764" y2="417.2" stroke="#333" stroke-width="0.9"/>
<text x="307.764" y="427.7" font-size="6.5" text-anchor="middle" fill="#222" stroke="#222" stroke-width="0.1">80</text>
<line x1="324.33" y1="419.2" x2="324.33" y2="417.2" stroke="#333" stroke-width="0.9"/>
<text x="324.33" y="427.7" font-size="6.5" text-anchor="middle" fill="#222" stroke="#222" stroke-width="0.1">100</text>
<line x1="340.896" y1="419.2" x2="340.896" y2="417.2" stroke="#333" stroke-width="0.9"/>
<text x="340.896" y="427.7" font-size="6.5" text-anchor="middle" fill="#222" stroke="#222" stroke-width="0.1">120</text>
<line x1="239.7" y1="417.4" x2="241.7" y2="417.4" stroke="#333" stroke-width="0.9"/>
<text x="237.0" y="419.61" font-size="6.5" text-anchor="end" fill="#222" stroke="#222" stroke-width="0.1">0</text>
<line x1="239.7" y1="398.64" x2="241.7" y2="398.64" stroke="#333" stroke-width="0.9"/>
<text x="237.0" y="400.85" font-size="6.5" text-anchor="end" fill="#222" stroke="#222" stroke-width="0.1">20</text>
<line x1="239.7" y1="379.88" x2="241.7" y2="379.88" stroke="#333" stroke-width="0.9"/>
<text x="237.0" y="382.09" font-size="6.5" text-anchor="end" fill="#222" stroke="#222" stroke-width="0.1">40</text>
<line x1="239.7" y1="361.12" x2="241.7" y2="361.12" stroke="#333" stroke-width="0.9"/>
<text x="237.0" y="363.33" font-size="6.5" text-anchor="end" fill="#222" stroke="#222" stroke-width="0.1">60</text>
<line x1="239.7" y1="342.36" x2="241.7" y2="342.36" stroke="#333" stroke-width="0.9"/>
<text x="237.0" y="344.57" font-size="6.5" text-anchor="end" fill="#222" stroke="#222" stroke-width="0.1">80</text>
<line x1="239.7" y1="323.59999999999997" x2="241.7" y2="323.59999999999997" stroke="#333" stroke-width="0.9"/>
<text x="237.0" y="325.81" font-size="6.5" text-anchor="end" fill="#222" stroke="#222" stroke-width="0.1">100</text>
<text x="290" y="317.6" font-size="6.9" text-anchor="middle" fill="#222" stroke="#222" stroke-width="0.1">OS</text>
<text x="288.0" y="438.4" font-size="6.75" text-anchor="middle" fill="#222" stroke="#222" stroke-width="0.1">Time (months)</text>
<text x="333.9" y="331.4" font-size="9" text-anchor="end" fill="#111" stroke="#111" stroke-width="0.12">p=0,0124</text>
<text x="328.2" y="389.2" font-size="9" text-anchor="end" fill="#111" stroke="#111" stroke-width="0.12">n=39</text>
<text x="328.2" y="410.9" font-size="9" text-anchor="end" fill="#111" stroke="#111" stroke-width="0.12">n=39</text>
<text x="219.6" y="370.6" font-size="6.75" text-anchor="middle" fill="#222" transform="rotate(-90 219.6 370.6)" stroke="#222" stroke-width="0.1">Survival probability (%)</text>
<path d="M378.4 325.2 L378.9 325.2 L378.9 345.0 L379.6 345.0 L379.6 352.2 L380.4 352.2 L380.4 359.3 L381.2 359.3 L381.2 365.6 L382.2 365.6 L382.2 370.1 L384.0 370.1 L384.0 373.7 L385.8 373.7 L385.8 380.0 L387.6 380.0 L387.6 386.3 L389.6 386.3 L389.6 389.0 L391.8 389.0 L391.8 392.6 L393.6 392.6 L393.6 397.1 L396.0 397.1 L396.0 399.8 L415.7 399.8 L415.7 402.5 L424.1 402.5 L424.1 406.1 L425.9 406.1 L425.9 410.0 L455.3 410.0 L455.3 416.8 L457.0 416.8 " stroke="#bcbcbc" stroke-width="0.9" fill="none"/>
<path d="M380.2 329.6 L380.8 330.6 L380.8 335.1 L381.6 335.1 L381.6 341.4 L382.6 341.4 L382.6 345.0 L384.0 345.0 L384.0 347.7 L385.6 347.7 L385.6 350.0 L390.0 350.0 L390.0 354.0 L390.9 354.0 L390.9 366.5 L393.2 366.5 L393.2 371.0 L395.0 371.0 L395.0 374.6 L398.6 374.6 L398.6 378.2 L403.5 378.2 L403.5 382.2 L415.7 382.2 L415.7 389.0 L417.3 389.0 L417.3 394.4 L430.4 394.4 L430.4 402.6 L473.1 402.6 " stroke="#2a2a2a" stroke-width="1.15" fill="none"/>
<rect x="376.6" y="322.9" width="102.89999999999998" height="98.30000000000001" fill="none" stroke="#3a3a3a" stroke-width="1.0"/>
<line x1="378.6" y1="421.2" x2="378.6" y2="419.2" stroke="#333" stroke-width="0.9"/>
<text x="378.6" y="429.7" font-size="6.5" text-anchor="middle" fill="#222" stroke="#222" stroke-width="0.1">0</text>
<line x1="403.32000000000005" y1="421.2" x2="403.32000000000005" y2="419.2" stroke="#333" stroke-width="0.9"/>
<text x="403.32000000000005" y="429.7" font-size="6.5" text-anchor="middle" fill="#222" stroke="#222" stroke-width="0.1">20</text>
<line x1="428.04" y1="421.2" x2="428.04" y2="419.2" stroke="#333" stroke-width="0.9"/>
<text x="428.04" y="429.7" font-size="6.5" text-anchor="middle" fill="#222" stroke="#222" stroke-width="0.1">40</text>
<line x1="452.76" y1="421.2" x2="452.76" y2="419.2" stroke="#333" stroke-width="0.9"/>
<text x="452.76" y="429.7" font-size="6.5" text-anchor="middle" fill="#222" stroke="#222" stroke-width="0.1">60</text>
<line x1="477.48" y1="421.2" x2="477.48" y2="419.2" stroke="#333" stroke-width="0.9"/>
<text x="477.48" y="429.7" font-size="6.5" text-anchor="middle" fill="#222" stroke="#222" stroke-width="0.1">80</text>
<line x1="376.6" y1="418.96" x2="378.6" y2="418.96" stroke="#333" stroke-width="0.9"/>
<text x="373.90000000000003" y="421.17" font-size="6.5" text-anchor="end" fill="#222" stroke="#222" stroke-width="0.1">10</text>
<line x1="376.6" y1="408.52" x2="378.6" y2="408.52" stroke="#333" stroke-width="0.9"/>
<text x="373.90000000000003" y="410.73" font-size="6.5" text-anchor="end" fill="#222" stroke="#222" stroke-width="0.1">20</text>
<line x1="376.6" y1="398.08" x2="378.6" y2="398.08" stroke="#333" stroke-width="0.9"/>
<text x="373.90000000000003" y="400.29" font-size="6.5" text-anchor="end" fill="#222" stroke="#222" stroke-width="0.1">30</text>
<line x1="376.6" y1="387.64" x2="378.6" y2="387.64" stroke="#333" stroke-width="0.9"/>
<text x="373.90000000000003" y="389.85" font-size="6.5" text-anchor="end" fill="#222" stroke="#222" stroke-width="0.1">40</text>
<line x1="376.6" y1="377.2" x2="378.6" y2="377.2" stroke="#333" stroke-width="0.9"/>
<text x="373.90000000000003" y="379.41" font-size="6.5" text-anchor="end" fill="#222" stroke="#222" stroke-width="0.1">50</text>
<line x1="376.6" y1="366.76" x2="378.6" y2="366.76" stroke="#333" stroke-width="0.9"/>
<text x="373.90000000000003" y="368.97" font-size="6.5" text-anchor="end" fill="#222" stroke="#222" stroke-width="0.1">60</text>
<line x1="376.6" y1="356.32" x2="378.6" y2="356.32" stroke="#333" stroke-width="0.9"/>
<text x="373.90000000000003" y="358.53" font-size="6.5" text-anchor="end" fill="#222" stroke="#222" stroke-width="0.1">70</text>
<line x1="376.6" y1="345.88" x2="378.6" y2="345.88" stroke="#333" stroke-width="0.9"/>
<text x="373.90000000000003" y="348.09" font-size="6.5" text-anchor="end" fill="#222" stroke="#222" stroke-width="0.1">80</text>
<line x1="376.6" y1="335.43999999999994" x2="378.6" y2="335.43999999999994" stroke="#333" stroke-width="0.9"/>
<text x="373.90000000000003" y="337.65" font-size="6.5" text-anchor="end" fill="#222" stroke="#222" stroke-width="0.1">90</text>
<line x1="376.6" y1="325.0" x2="378.6" y2="325.0" stroke="#333" stroke-width="0.9"/>
<text x="373.90000000000003" y="327.21" font-size="6.5" text-anchor="end" fill="#222" stroke="#222" stroke-width="0.1">100</text>
<text x="427.8" y="319.2" font-size="6.9" text-anchor="middle" fill="#222" stroke="#222" stroke-width="0.1">PFS</text>
<text x="427.8" y="439.3" font-size="6.75" text-anchor="middle" fill="#222" stroke="#222" stroke-width="0.1">Time (months)</text>
<text x="470.6" y="338.5" font-size="9" text-anchor="end" fill="#111" stroke="#111" stroke-width="0.12">p=0,0301</text>
<text x="465.0" y="401.3" font-size="9" text-anchor="end" fill="#111" stroke="#111" stroke-width="0.12">n=39</text>
<text x="478.0" y="416.2" font-size="9" text-anchor="end" fill="#111" stroke="#111" stroke-width="0.12">n=39</text>
<text x="357.4" y="372.5" font-size="6.75" text-anchor="middle" fill="#222" transform="rotate(-90 357.4 372.5)" stroke="#222" stroke-width="0.1">Survival probability (%)</text>
<rect x="486.3" y="357.7" width="30.999999999999943" height="28.5" fill="#fff" stroke="#4a4a4a" stroke-width="0.8"/>
<text x="489.4" y="366.2" font-size="6.7" text-anchor="start" fill="#222" stroke="#222" stroke-width="0.1">Group</text>
<line x1="489.6" y1="372.7" x2="501.1" y2="372.7" stroke="#444" stroke-width="0.9"/>
<line x1="489.6" y1="380.4" x2="501.1" y2="380.4" stroke="#c8c8c8" stroke-width="0.8"/>
<text x="503.8" y="375.0" font-size="6.8" text-anchor="start" fill="#222" stroke="#222" stroke-width="0.1">1</text>
<text x="503.8" y="382.9" font-size="6.8" text-anchor="start" fill="#222" stroke="#222" stroke-width="0.1">2</text>
</svg></body></html>
